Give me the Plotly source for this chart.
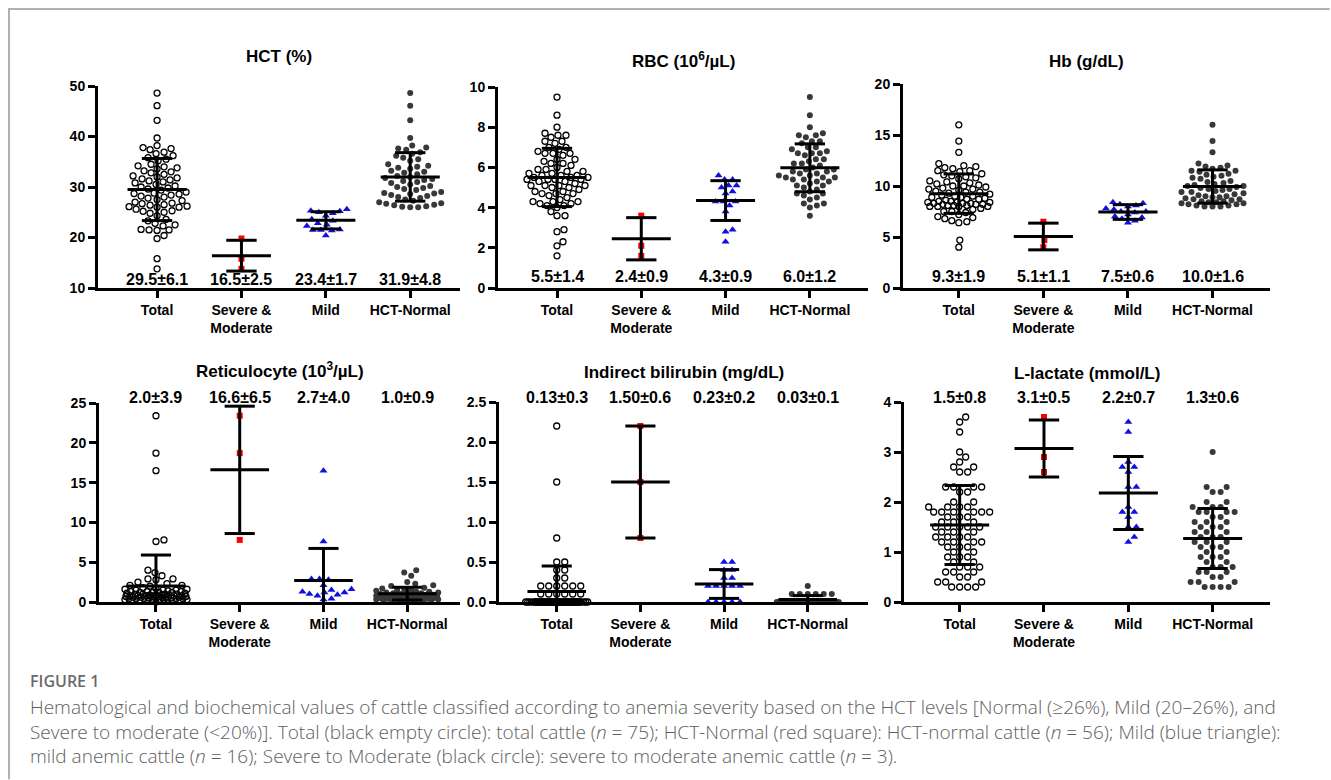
import numpy as np
import plotly.graph_objects as go

# ---------------- data ----------------
CATEGORIES = ["Total", "Severe &<br>Moderate", "Mild", "HCT-Normal"]

# HCT (%)
hct_severe = [19.8, 15.8, 13.8]
hct_mild = [25.6, 25.3, 25.2, 25.0, 24.8, 24.3, 23.6, 23.3, 22.8, 22.5, 22.3, 21.6, 21.5, 21.5, 21.4, 20.4]
hct_normal = [48.6, 46.1, 43.2, 39.7, 38.2, 37.8, 37.6, 37.4, 36.9, 36.6, 36.2, 35.8, 35.5, 35.2, 34.5, 34.2,
              34.0, 33.8, 33.6, 33.2, 33.0, 32.8, 32.5, 32.2, 32.0, 31.8, 31.6, 31.4, 31.2, 31.0, 30.8, 30.5,
              30.2, 30.0, 29.8, 29.6, 29.4, 29.0, 28.8, 28.7, 28.6, 28.4, 28.2, 28.0, 27.8, 27.5, 27.3, 27.0,
              26.8, 26.7, 26.5, 26.4, 26.2, 26.1, 26.0, 26.0]
hct_mean = [29.5, 16.4, 23.4, 32.0]
hct_sd = [6.15, 3.05, 1.7, 4.8]
hct_labels = ["29.5±6.1", "16.5±2.5", "23.4±1.7", "31.9±4.8"]

# RBC (10^6/uL)
rbc_severe = [3.6, 2.1, 1.6]
rbc_mild = [5.6, 5.4, 5.4, 5.1, 5.1, 5.0, 4.8, 4.7, 4.3, 4.3, 4.3, 4.1, 3.8, 2.9, 2.8, 2.3]
rbc_normal = [9.5, 8.6, 8.0, 7.7, 7.6, 7.6, 7.5, 7.3, 7.3, 7.2, 7.0, 7.0, 6.9, 6.8, 6.7, 6.7, 6.7, 6.6,
              6.4, 6.4, 6.3, 6.2, 6.2, 6.1, 6.0, 5.9, 5.9, 5.8, 5.8, 5.7, 5.7, 5.6, 5.6, 5.5, 5.5, 5.5,
              5.4, 5.4, 5.3, 5.3, 5.2, 5.1, 5.1, 5.0, 4.9, 4.8, 4.7, 4.7, 4.6, 4.5, 4.4, 4.2, 4.2, 4.1,
              4.0, 3.6]
rbc_mean = [5.5, 2.45, 4.35, 5.98]
rbc_sd = [1.45, 1.05, 0.99, 1.19]
rbc_labels = ["5.5±1.4", "2.4±0.9", "4.3±0.9", "6.0±1.2"]

# Hb (g/dL)
hb_severe = [6.5, 4.7, 4.0]
hb_mild = [8.4, 8.3, 8.2, 8.1, 8.0, 7.8, 7.7, 7.5, 7.5, 7.4, 7.2, 7.0, 6.9, 6.8, 6.6, 6.4]
hb_normal = [16.0, 14.4, 13.3, 12.2, 12.0, 11.9, 11.8, 11.7, 11.5, 11.5, 11.4, 11.2, 11.1, 11.0, 10.9,
             10.8, 10.7, 10.5, 10.4, 10.3, 10.2, 10.1, 10.0, 10.0, 9.9, 9.8, 9.7, 9.7, 9.6, 9.5, 9.4,
             9.4, 9.3, 9.2, 9.1, 9.0, 9.0, 8.9, 8.9, 8.8, 8.7, 8.7, 8.6, 8.5, 8.5, 8.4, 8.4, 8.3, 8.3,
             8.2, 8.2, 8.1, 8.1, 8.0, 8.0, 8.0]
hb_mean = [9.25, 5.05, 7.45, 9.95]
hb_sd = [1.93, 1.31, 0.72, 1.63]
hb_labels = ["9.3±1.9", "5.1±1.1", "7.5±0.6", "10.0±1.6"]

# Reticulocyte (10^3/uL)
ret_severe = [23.4, 18.7, 7.8]
ret_mild = [16.5, 7.6, 2.9, 2.9, 2.8, 2.1, 1.6, 1.5, 1.3, 1.2, 1.2, 1.0, 0.9, 0.8, 0.4, 0.3]
ret_normal = [4.0, 3.7, 3.3, 2.5, 2.3, 2.1, 2.0, 1.8, 1.7, 1.6, 1.5, 1.5, 1.4, 1.3, 1.3, 1.2, 1.2, 1.1,
              1.1, 1.0, 1.0, 1.0, 0.9, 0.9, 0.9, 0.8, 0.8, 0.8, 0.8, 0.7, 0.7, 0.7, 0.7, 0.6, 0.6, 0.6,
              0.6, 0.5, 0.5, 0.5, 0.5, 0.4, 0.4, 0.4, 0.4, 0.3, 0.3, 0.3, 0.3, 0.2, 0.2, 0.2, 0.1, 0.1,
              0.1, 0.0]
ret_mean = [2.0, 16.6, 2.7, 1.05]
ret_sd = [3.9, 8.0, 4.03, 0.8]
ret_labels = ["2.0±3.9", "16.6±6.5", "2.7±4.0", "1.0±0.9"]

# Indirect bilirubin (mg/dL)
bil_severe = [2.2, 1.5, 0.8]
bil_mild = [0.5, 0.5, 0.4, 0.4, 0.3, 0.3, 0.2, 0.2, 0.2, 0.2, 0.2, 0.0, 0.0, 0.0, 0.0, 0.0]
bil_normal = [0.2, 0.1, 0.1, 0.1, 0.1, 0.1, 0.1] + [0.0] * 49
bil_mean = [0.13, 1.5, 0.225, 0.03]
bil_sd = [0.32, 0.7, 0.18, 0.05]
bil_labels = ["0.13±0.3", "1.50±0.6", "0.23±0.2", "0.03±0.1"]

# L-lactate (mmol/L)
lac_severe = [3.7, 2.9, 2.6]
lac_mild = [3.6, 3.4, 2.8, 2.7, 2.7, 2.6, 2.3, 2.3, 1.9, 1.8, 1.8, 1.7, 1.5, 1.5, 1.3, 1.2]
lac_normal = [3.0, 2.3, 2.3, 2.2, 2.2, 2.0, 2.0, 1.9, 1.9, 1.9, 1.8, 1.8, 1.8, 1.8, 1.7, 1.7, 1.6, 1.6,
              1.6, 1.5, 1.5, 1.5, 1.4, 1.4, 1.4, 1.3, 1.3, 1.3, 1.2, 1.2, 1.2, 1.1, 1.1, 1.1, 1.0, 1.0,
              0.9, 0.9, 0.9, 0.8, 0.8, 0.7, 0.7, 0.7, 0.6, 0.6, 0.6, 0.5, 0.5, 0.4, 0.4, 0.4, 0.3, 0.3,
              0.3, 0.3]
lac_mean = [1.54, 3.07, 2.18, 1.27]
lac_sd = [0.79, 0.57, 0.73, 0.6]
lac_labels = ["1.5±0.8", "3.1±0.5", "2.2±0.7", "1.3±0.6"]

CAPTION_HEAD = "FIGURE 1"
CAPTION_LINES = [
    "Hematological and biochemical values of cattle classified according to anemia severity based on the HCT levels [Normal (≥26%), Mild (20–26%), and",
    "Severe to moderate (<20%)]. Total (black empty circle): total cattle (<i>n</i> = 75); HCT-Normal (red square): HCT-normal cattle (<i>n</i> = 56); Mild (blue triangle):",
    "mild anemic cattle (<i>n</i> = 16); Severe to Moderate (black circle): severe to moderate anemic cattle (<i>n</i> = 3).",
]

# ---------------- layout config ----------------
FW, FH = 1331, 780
FONT = "Liberation Sans, Arial, sans-serif"

panels = [
    dict(title="HCT (%)", sev=hct_severe, mild=hct_mild, norm=hct_normal, mean=hct_mean, sd=hct_sd,
         labels=hct_labels, yr=[10, 50], dt=10, fmt="d", px=(98, 460, 86, 288), xr=[-0.70, 3.59],
         lab_y=279, title_y=57),
    dict(title="RBC (10<sup>6</sup>/µL)", sev=rbc_severe, mild=rbc_mild, norm=rbc_normal, mean=rbc_mean,
         sd=rbc_sd, labels=rbc_labels, yr=[0, 10], dt=2, fmt="d", px=(498, 868, 87, 288),
         xr=[-0.70, 3.69], lab_y=276, title_y=60),
    dict(title="Hb (g/dL)", sev=hb_severe, mild=hb_mild, norm=hb_normal, mean=hb_mean, sd=hb_sd,
         labels=hb_labels, yr=[0, 20], dt=5, fmt="d", px=(903, 1270, 84, 288), xr=[-0.66, 3.68],
         lab_y=276, title_y=62),
    dict(title="Reticulocyte (10<sup>3</sup>/µL)", sev=ret_severe, mild=ret_mild, norm=ret_normal,
         mean=ret_mean, sd=ret_sd, labels=ret_labels, yr=[0, 25], dt=5, fmt="d", px=(99, 460, 403, 602),
         xr=[-0.68, 3.63], lab_y=397, title_y=370),
    dict(title="Indirect bilirubin (mg/dL)", sev=bil_severe, mild=bil_mild, norm=bil_normal,
         mean=bil_mean, sd=bil_sd, labels=bil_labels, yr=[0, 2.5], dt=0.5, fmt=".1f",
         px=(499, 868, 402, 602), xr=[-0.69, 3.72], lab_y=397, title_y=372),
    dict(title="L-lactate (mmol/L)", sev=lac_severe, mild=lac_mild, norm=lac_normal, mean=lac_mean,
         sd=lac_sd, labels=lac_labels, yr=[0, 4], dt=1, fmt="d", px=(904, 1270, 402, 602),
         xr=[-0.66, 3.68], lab_y=397, title_y=373),
]

STYLES = [
    dict(symbol="circle-open", size=6, color="black", line=dict(width=1.3, color="black")),
    dict(symbol="square", size=6, color="#ff0000", line=dict(width=0)),
    dict(symbol="triangle-up", size=7, color="#1010e0", line=dict(width=0)),
    dict(symbol="circle", size=6, color="#383838", line=dict(width=0)),
]


def swarm_offsets(values, ppu_y, ppu_x, d=7.2, half_w=31.0, grid=1.0):
    """Greedy beeswarm in pixel space, limited to +-half_w (overlap allowed when crowded)."""
    vals = np.asarray(values, float)
    ypx = vals * ppu_y
    cands = [0.0]
    k = 1
    while k * grid <= half_w:
        cands += [k * grid, -k * grid]
        k += 1
    cands = np.array(cands)
    px_list, py_list = [], []
    off = np.zeros(len(vals))
    for i in np.argsort(ypx, kind="stable"):
        y = ypx[i]
        if not px_list:
            chosen = 0.0
        else:
            pxa, pya = np.array(px_list), np.array(py_list)
            dmin = np.array([np.min(np.hypot(pxa - c, pya - y)) for c in cands])
            ok = np.where(dmin >= d)[0]
            chosen = cands[ok[0]] if len(ok) else cands[int(np.argmax(dmin))]
        px_list.append(chosen)
        py_list.append(y)
        off[i] = chosen / ppu_x
    return off


fig = go.Figure()
annotations = []

for n, p in enumerate(panels, start=1):
    x0, x1, ytop, ybot = p["px"]
    ppu_y = (ybot - ytop) / (p["yr"][1] - p["yr"][0])
    ppu_x = (x1 - x0) / (p["xr"][1] - p["xr"][0])
    xa = "x" if n == 1 else f"x{n}"
    ya = "y" if n == 1 else f"y{n}"
    total = list(p["sev"]) + list(p["mild"]) + list(p["norm"])
    groups = [total, p["sev"], p["mild"], p["norm"]]
    for ci, g in enumerate(groups):
        off = swarm_offsets(g, ppu_y, ppu_x)
        xs = ci + off
        st = STYLES[ci]
        fig.add_trace(go.Scatter(
            x=xs, y=g, mode="markers", xaxis=xa, yaxis=ya, cliponaxis=False, hoverinfo="y",
            marker=dict(symbol=st["symbol"], size=st["size"], color=st["color"], line=st["line"]),
        ))
    # mean and SD lines
    lx, ly = [], []
    mh, ch = 0.35, 0.18
    for ci in range(4):
        m, s = p["mean"][ci], p["sd"][ci]
        lx += [ci - mh, ci + mh, None, ci, ci, None, ci - ch, ci + ch, None, ci - ch, ci + ch, None]
        ly += [m, m, None, m - s, m + s, None, m + s, m + s, None, m - s, m - s, None]
    fig.add_trace(go.Scatter(x=lx, y=ly, mode="lines", xaxis=xa, yaxis=ya,
                             line=dict(color="black", width=3), hoverinfo="skip"))

    axis_common = dict(showline=True, linewidth=3, linecolor="black", ticks="outside", ticklen=7,
                       tickwidth=3, tickcolor="black", showgrid=False, zeroline=False, automargin=False,
                       tickfont=dict(family=FONT, size=14, color="black", weight="bold"))
    fig.layout[f"xaxis{'' if n == 1 else n}"] = dict(
        domain=[x0 / FW, x1 / FW], range=p["xr"], anchor=ya, tickvals=[0, 1, 2, 3],
        ticktext=CATEGORIES, fixedrange=True, **axis_common)
    fig.layout[f"yaxis{'' if n == 1 else n}"] = dict(
        domain=[1 - ybot / FH, 1 - ytop / FH], range=p["yr"], anchor=xa, dtick=p["dt"],
        tick0=p["yr"][0], tickformat=p["fmt"], fixedrange=True, **axis_common)

    annotations.append(dict(text=f"<b>{p['title']}</b>", x=(x0 + x1) / 2 / FW, y=1 - p["title_y"] / FH,
                            xref="paper", yref="paper", showarrow=False, xanchor="center",
                            yanchor="middle", font=dict(family=FONT, size=17, color="black")))
    for ci in range(4):
        annotations.append(dict(text=f"<b>{p['labels'][ci]}</b>", x=ci, xref=xa, y=1 - p["lab_y"] / FH,
                                yref="paper", showarrow=False, xanchor="center", yanchor="middle",
                                font=dict(family=FONT, size=16, color="black")))

# caption
CAP_FONT = "Open Sans, Lato, sans-serif"
annotations.append(dict(text=CAPTION_HEAD, x=28 / FW, y=1 - 681 / FH, xref="paper", yref="paper",
                        showarrow=False, xanchor="left", yanchor="middle",
                        font=dict(family=CAP_FONT, size=16, color="#6a6a6a", weight=600)))
for i, line in enumerate(CAPTION_LINES):
    annotations.append(dict(text=line, x=28 / FW, y=1 - (707 + 24.5 * i) / FH, xref="paper",
                            yref="paper", showarrow=False, xanchor="left", yanchor="middle",
                            font=dict(family=CAP_FONT, size=19, color="#5e5e5e", weight=300)))

fig.update_layout(
    width=FW, height=FH, autosize=False, margin=dict(l=0, r=0, t=0, b=0, pad=0), paper_bgcolor="white",
    plot_bgcolor="white", showlegend=False, annotations=annotations,
    font=dict(family=FONT, color="black"),
    shapes=[dict(type="path", xref="paper", yref="paper",
                 path=f"M 0.999 {1 - 9 / FH} L {9 / FW} {1 - 9 / FH} L {9 / FW} 0.001",
                 line=dict(color="#b0b0b0", width=2))],
)

fig.write_html("out.html", config={"displayModeBar": False},
               post_script="document.body.style.margin='0px';")
